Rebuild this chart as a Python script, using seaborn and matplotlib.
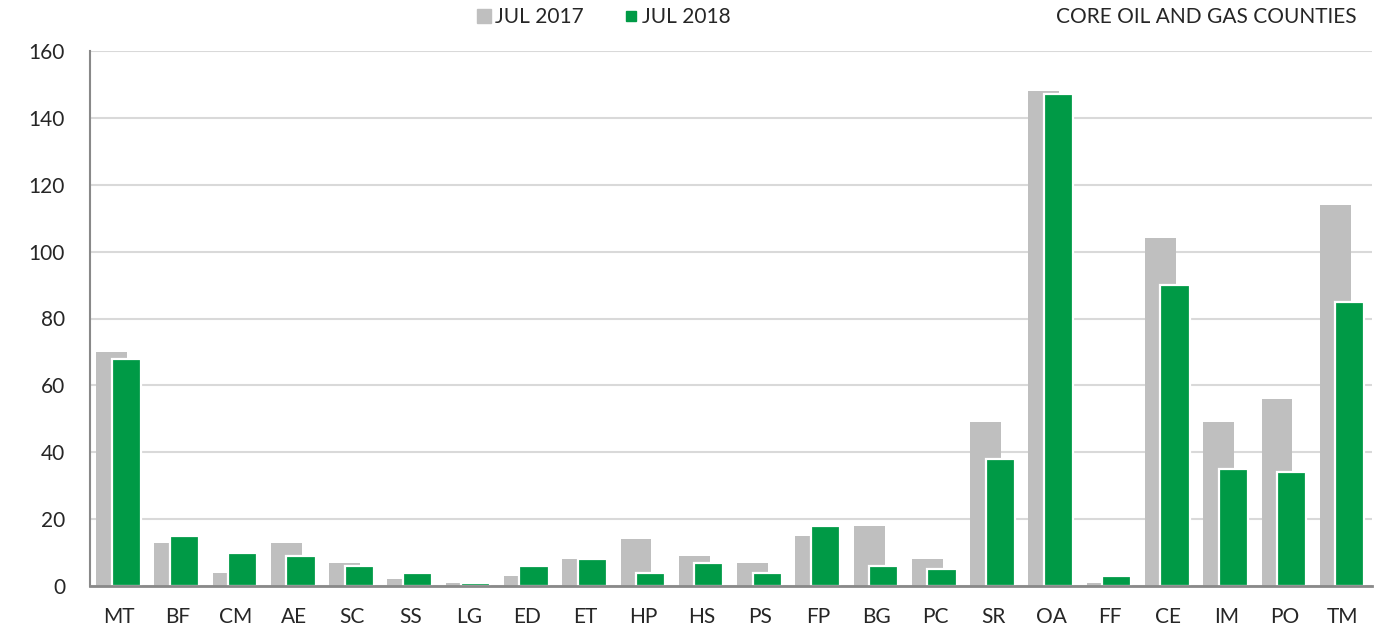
import numpy as np
import pandas as pd
import matplotlib
matplotlib.use("Agg")
import matplotlib.pyplot as plt
from matplotlib.lines import Line2D
import seaborn as sns

categories = ["MT", "BF", "CM", "AE", "SC", "SS", "LG", "ED", "ET", "HP", "HS",
              "PS", "FP", "BG", "PC", "SR", "OA", "FF", "CE", "IM", "PO", "TM"]
jul_2017 = [70, 13, 4, 13, 7, 2, 1, 3, 8, 14, 9, 7, 15, 18, 8, 49, 148, 1, 104, 49, 56, 114]
jul_2018 = [68, 15, 10, 9, 6, 4, 1, 6, 8, 4, 7, 4, 18, 6, 5, 38, 147, 3, 90, 35, 34, 85]
y_ticks = [0, 20, 40, 60, 80, 100, 120, 140, 160]
series_names = ["JUL 2017", "JUL 2018"]
chart_title = "CORE OIL AND GAS COUNTIES"

GRAY = "#BFBFBF"
GREEN = "#009A46"
AXIS = "#898989"
FS = 15

sns.set_style("white")
plt.rcParams["font.family"] = ["Lato", "DejaVu Sans"]

fig = plt.figure(figsize=(13.92, 6.27), dpi=100)
ax = fig.add_axes([90 / 1392, 1 - 586 / 627, (1372 - 90) / 1392, (586 - 51) / 627])

idx = np.arange(len(categories))
df17 = pd.DataFrame({"pos": idx - 0.13, "val": jul_2017})
df18 = pd.DataFrame({"pos": idx + 0.12, "val": jul_2018})

sns.barplot(data=df17, x="pos", y="val", native_scale=True, orient="x",
            width=0.53, color=GRAY, saturation=1, linewidth=0, ax=ax, zorder=2)
sns.barplot(data=df18, x="pos", y="val", native_scale=True, orient="x",
            width=0.50, color=GREEN, saturation=1, edgecolor="white",
            linewidth=1.6, ax=ax, zorder=3)

ax.set_xlim(-0.5, len(categories) - 0.5)
ax.set_ylim(0, 160)
ax.set_yticks(y_ticks)
ax.set_yticklabels([str(t) for t in y_ticks])
ax.yaxis.grid(True, color="#D9D9D9", linewidth=1.5, zorder=0)
ax.set_axisbelow(True)

ax.set_xticks(np.arange(len(categories) + 1) - 0.5)
ax.set_xticklabels([])
ax.set_xticks(idx, minor=True)
ax.set_xticklabels(categories, minor=True)
ax.tick_params(axis="x", which="major", length=7, width=1.5, color=AXIS, direction="out")
ax.tick_params(axis="x", which="minor", length=0, pad=15, labelsize=FS)
ax.tick_params(axis="y", length=6, width=1.5, color=AXIS, direction="out", pad=12, labelsize=FS)
ax.set_xlabel("")
ax.set_ylabel("")

for s in ["top", "right"]:
    ax.spines[s].set_visible(False)
ax.spines["bottom"].set_color(AXIS)
ax.spines["bottom"].set_linewidth(2)
ax.spines["bottom"].set_zorder(4)
ax.spines["left"].set_color(AXIS)
ax.spines["left"].set_linewidth(1.5)

handles = [Line2D([], [], marker="s", ls="", color=GRAY, markersize=10),
           Line2D([], [], marker="s", ls="", color=GREEN, markersize=7)]
fig.legend(handles, series_names, loc="center", bbox_to_anchor=(603 / 1392, 1 - 17 / 627),
           ncol=2, frameon=False, fontsize=FS, handletextpad=0.1, columnspacing=1.9,
           handlelength=0.8)
fig.text(1357 / 1392, 1 - 17 / 627, chart_title, ha="right", va="center", fontsize=FS)

fig.savefig("out.png", dpi=100)
